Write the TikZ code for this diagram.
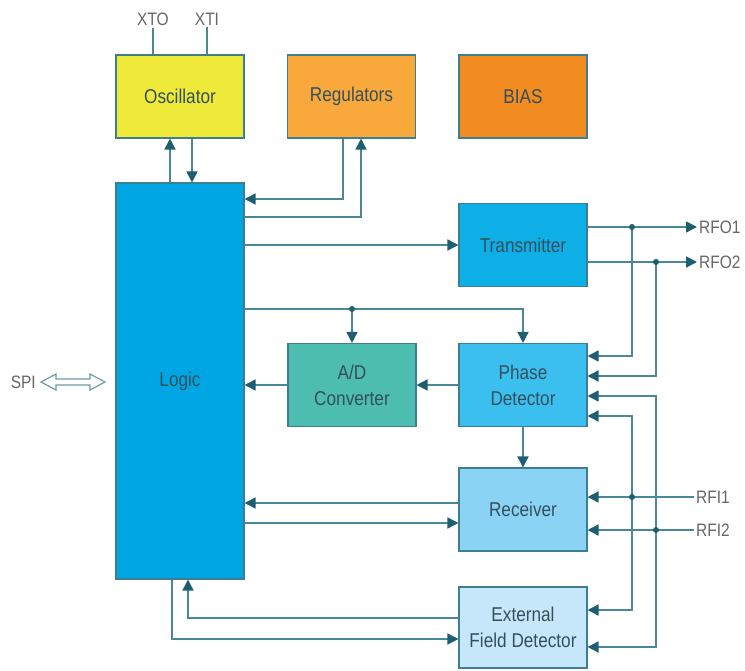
\documentclass[tikz,border=0pt]{standalone}
\usepackage{fontspec}
\setmainfont[FakeStretch=0.86]{Liberation Sans}
\usetikzlibrary{arrows.meta}

\definecolor{wirec}{HTML}{4A8898}
\definecolor{tipc}{HTML}{1D5E70}
\definecolor{edgec}{HTML}{3D7F90}
\definecolor{txtc}{HTML}{34505C}
\definecolor{lblc}{HTML}{666666}
\definecolor{busc}{HTML}{6E9AA4}
\definecolor{oscc}{HTML}{EFEA3A}
\definecolor{regc}{HTML}{F9A83C}
\definecolor{biasc}{HTML}{F28B20}
\definecolor{logicc}{HTML}{00A6E4}
\definecolor{txc}{HTML}{0EAEE6}
\definecolor{pdc}{HTML}{3BBFEF}
\definecolor{adc}{HTML}{4DBDB0}
\definecolor{rxc}{HTML}{8AD3F4}
\definecolor{efdc}{HTML}{C6E7F9}

\begin{document}
\begin{tikzpicture}[x=1pt,y=-1pt,
  block/.style={draw=edgec,line width=1.1pt,text=txtc,align=center,
    font=\fontsize{20}{26}\selectfont,minimum width=128pt,minimum height=83pt,inner sep=0pt},
  pinlabel/.style={text=lblc,font=\fontsize{18}{20}\selectfont,inner sep=2pt},
  wire/.style={draw=wirec,line width=1.6pt},
  arr/.style={wire,-{Triangle[length=11pt,width=11pt,color=tipc]}},
  junction/.style={fill=tipc}]
\useasboundingbox (0,0) rectangle (745,671);

% functional blocks
\node[block,fill=oscc]   (osc)   at (180,96.5)  {Oscillator};
\node[block,fill=regc]   (reg)   at (351.5,96.5) {Regulators};
\node[block,fill=biasc]  (bias)  at (523,96.5)  {BIAS};
\node[block,fill=logicc,minimum height=396pt] (logic) at (180,381) {Logic};
\node[block,fill=txc]    (tx)    at (523,245)   {Transmitter};
\node[block,fill=adc]    (ad)    at (352,385)   {A/D\\Converter};
\node[block,fill=pdc]    (pd)    at (523,385)   {Phase\\Detector};
\node[block,fill=rxc]    (rx)    at (523,509.5) {Receiver};
\node[block,fill=efdc,minimum height=81pt] (efd) at (523,627.5) {External\\Field Detector};

% pin labels
\node[pinlabel] (xto)  at (153,19)  {XTO};
\node[pinlabel] (xti)  at (207,19)  {XTI};
\node[pinlabel,anchor=west] (rfo1) at (697,227) {RFO1};
\node[pinlabel,anchor=west] (rfo2) at (697,262) {RFO2};
\node[pinlabel,anchor=west] (rfi1) at (694,497) {RFI1};
\node[pinlabel,anchor=west] (rfi2) at (694,530) {RFI2};
\node[pinlabel,anchor=east] (spi)  at (38,382)  {SPI};

% SPI bus: hollow double-headed arrow
\draw[busc,line width=1.2pt,fill=white,line join=miter]
  (41,382) -- (56,374) -- (56,379) -- (90,379) -- (90,374) -- (105,382)
  -- (90,390) -- (90,385) -- (56,385) -- (56,390) -- cycle;

% crystal pins
\draw[wire] (osc.north -| xto) -- (xto.south);
\draw[wire] (osc.north -| xti) -- (xti.south);

% oscillator <-> logic
\draw[arr] ([xshift=-10pt]logic.north) -- ([xshift=-10pt]osc.south);
\draw[arr] ([xshift=12pt]osc.south) -- ([xshift=12pt]logic.north);

% regulators <-> logic
\draw[arr] (reg.south -| 343,0) |- (logic.east |- 0,199);
\draw[arr] (logic.east |- 0,217) -| (reg.south -| 361,0);

% logic -> transmitter
\draw[arr] (logic.east |- tx.west) -- (tx.west);

% transmitter outputs with taps back to the phase detector
\coordinate (j1) at (632,227);
\coordinate (j2) at (656,262);
\draw[arr] (tx.east |- j1) -- (rfo1.west);
\draw[arr] (tx.east |- j2) -- (rfo2.west);
\draw[arr] (j1) |- (pd.east |- 0,356);
\draw[arr] (j2) |- (pd.east |- 0,376);
\fill[junction] (j1) circle (3pt);
\fill[junction] (j2) circle (3pt);

% logic -> A/D and phase detector
\coordinate (j3) at (ad.north |- 0,309);
\draw[arr] (logic.east |- j3) -| (pd.north);
\draw[arr] (j3) -- (ad.north);
\fill[junction] (j3) circle (3pt);

% phase detector -> A/D -> logic
\draw[arr] (pd.west) -- (ad.east);
\draw[arr] (ad.west) -- (logic.east |- ad.west);

% phase detector -> receiver
\draw[arr] (pd.south) -- (rx.north);

% receiver <-> logic
\draw[arr] (rx.west |- 0,503) -- (logic.east |- 0,503);
\draw[arr] (logic.east |- 0,523) -- (rx.west |- 0,523);

% receiver inputs with taps to phase detector and field detector
\coordinate (j4) at (632,497);
\coordinate (j5) at (656,530);
\draw[arr] (rfi1.west) -- (rx.east |- rfi1.west);
\draw[arr] (rfi2.west) -- (rx.east |- rfi2.west);
\draw[arr] (j4) |- (pd.east |- 0,416);
\draw[arr] (j4) |- (efd.east |- 0,610);
\draw[arr] (j5) |- (pd.east |- 0,396);
\draw[arr] (j5) |- (efd.east |- 0,647);
\fill[junction] (j4) circle (3pt);
\fill[junction] (j5) circle (3pt);

% field detector <-> logic
\draw[arr] (efd.west |- 0,618) -| (logic.south -| 188,0);
\draw[arr] (logic.south -| 172,0) |- (efd.west |- 0,639);
\end{tikzpicture}
\end{document}
